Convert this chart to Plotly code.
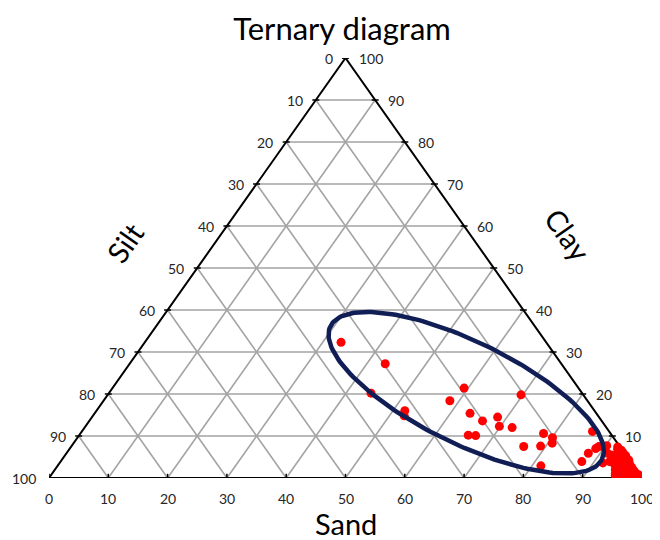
import numpy as np
import plotly.graph_objects as go

# ---------------- data (percent) ----------------
ticks = [0, 10, 20, 30, 40, 50, 60, 70, 80, 90, 100]
tick_labels = [str(t) for t in ticks]

sand = [33.1, 43.1, 44.2, 52.0, 52.5, 59.3, 58.4, 63.3, 66.3, 68.4, 69.8, 72.1, 69.7,
        65.6, 66.9, 76.3, 79.1, 78.1, 80.1, 80.7, 81.5, 86.1, 89.0, 88.7, 88.0, 87.9,
        90.2, 91.2, 91.6,
        92.5, 93.0, 93.5, 94.0, 94.5, 95.0, 95.5, 96.0, 96.5, 97.0, 97.5, 98.0, 98.5,
        99.0, 99.5, 94.0, 94.5, 95.0, 95.5, 96.0, 96.5, 97.0, 97.5, 98.0, 93.5, 95.2,
        95.0, 96.0, 97.0, 98.5, 93.0, 95.5, 96.5, 94.8, 92.0, 92.6, 93.8, 95.8, 96.8,
        97.8, 98.8, 99.2, 94.2, 96.2, 92.2, 93.2, 94.6, 95.6, 92.9]
clay = [32.3, 27.2, 20.2, 16.0, 14.8, 21.4, 18.4, 15.4, 13.6, 14.5, 12.3, 12.0, 19.8,
        10.2, 10.1, 7.5, 7.6, 10.6, 9.6, 8.3, 2.9, 11.1, 7.5, 7.0, 5.9, 3.9,
        7.7, 5.9, 3.6,
        6.8, 6.0, 5.2, 4.5, 5.0, 4.5, 4.0, 3.5, 3.0, 2.5, 2.0, 1.5, 1.0,
        0.8, 0.3, 3.0, 2.0, 1.0, 0.5, 1.5, 2.0, 1.0, 0.5, 0.8, 3.5, 0.6,
        2.8, 2.5, 1.8, 0.5, 4.5, 3.0, 0.8, 3.8, 5.5, 3.9, 6.0, 4.0, 2.6,
        1.2, 0.4, 0.5, 5.5, 0.2, 7.4, 6.6, 5.3, 4.3, 5.6]
silt = [round(100 - s - c, 1) for s, c in zip(sand, clay)]

# outline ellipse (in ternary units: centre sand/clay, semi-axes, rotation)
ell_center_sand, ell_center_clay = 60.2, 20.3
ell_a, ell_b, ell_angle_deg = 25.5, 8.6, -26.1


def to_xy(sand_v, clay_v):
    s = np.asarray(sand_v, dtype=float)
    c = np.asarray(clay_v, dtype=float)
    return s + c / 2.0, c


fig = go.Figure()

GRID = "#a3a3a3"
# grid lines
for k in ticks[1:-1]:
    # clay = k (horizontal)
    x, y = to_xy([0, 100 - k], [k, k])
    fig.add_trace(go.Scatter(x=x, y=y, mode="lines", line=dict(color=GRID, width=1.6),
                             hoverinfo="skip", showlegend=False))
    # sand = k
    x, y = to_xy([k, k], [0, 100 - k])
    fig.add_trace(go.Scatter(x=x, y=y, mode="lines", line=dict(color=GRID, width=1.6),
                             hoverinfo="skip", showlegend=False))
    # silt = k
    x, y = to_xy([100 - k, 0], [0, 100 - k])
    fig.add_trace(go.Scatter(x=x, y=y, mode="lines", line=dict(color=GRID, width=1.6),
                             hoverinfo="skip", showlegend=False))

# triangle edges
x, y = to_xy([0, 100, 0, 0], [0, 0, 100, 0])
fig.add_trace(go.Scatter(x=x, y=y, mode="lines", line=dict(color="black", width=2),
                         hoverinfo="skip", showlegend=False))

# tick marks
bx, by = to_xy(ticks, [0] * len(ticks))
fig.add_trace(go.Scatter(x=bx, y=by, mode="markers",
                         marker=dict(symbol="line-ns", size=6, line=dict(color="black", width=1.5)),
                         hoverinfo="skip", showlegend=False))
lx, ly = to_xy([0] * len(ticks), [100 - t for t in ticks])
rx, ry = to_xy([100 - t for t in ticks], ticks)
fig.add_trace(go.Scatter(x=list(lx) + list(rx), y=list(ly) + list(ry), mode="markers",
                         marker=dict(symbol="line-ew", size=5, line=dict(color="black", width=1.5)),
                         hoverinfo="skip", showlegend=False))

# data points
px, py = to_xy(sand, clay)
fig.add_trace(go.Scatter(x=px, y=py, mode="markers",
                         marker=dict(color="#ff0000", size=9),
                         customdata=np.stack([sand, silt, clay], axis=1),
                         hovertemplate="Sand %{customdata[0]}<br>Silt %{customdata[1]}<br>Clay %{customdata[2]}<extra></extra>",
                         showlegend=False))

# ellipse (drawn in screen-proportional space so it stays a true ellipse)
X_PX, Y_PX = 5.93, 4.2  # pixels per unit on the two axes
t = np.linspace(0, 2 * np.pi, 200)
cx, cy = to_xy(ell_center_sand, ell_center_clay)
th = np.deg2rad(ell_angle_deg)
u = ell_a * np.cos(t) * X_PX
v = ell_b * np.sin(t) * X_PX
ex = cx + (u * np.cos(th) - v * np.sin(th)) / X_PX
ey = cy + (u * np.sin(th) + v * np.cos(th)) / Y_PX
fig.add_trace(go.Scatter(x=ex, y=ey, mode="lines", line=dict(color="#111e56", width=4.5),
                         hoverinfo="skip", showlegend=False))

# tick labels
FONT = "Lato, 'Open Sans', sans-serif"
tf = dict(family=FONT, size=14, color="#262626")
ann = []
for k, lab in zip(ticks, tick_labels):
    x0, y0 = to_xy(k, 0)
    ann.append(dict(x=float(x0), y=float(y0), text=lab, showarrow=False, yshift=-20,
                    xanchor="center", yanchor="middle", font=tf))
    x1, y1 = to_xy(0, 100 - k)  # silt = k on left edge
    ann.append(dict(x=float(x1), y=float(y1), text=lab, showarrow=False, xshift=-11,
                    xanchor="right", yanchor="middle", font=tf))
    x2, y2 = to_xy(100 - k, k)  # clay = k on right edge
    ann.append(dict(x=float(x2), y=float(y2), text=lab, showarrow=False, xshift=11,
                    xanchor="left", yanchor="middle", font=tf))

tt = dict(family=FONT, size=29, color="black")
ann.append(dict(x=50, y=0, text="Sand", showarrow=False, yshift=-45,
                xanchor="center", yanchor="middle", font=tt))
ann.append(dict(x=12.8, y=56, text="Silt", showarrow=False, textangle=-55,
                xanchor="center", yanchor="middle", font=tt))
ann.append(dict(x=87.5, y=57.9, text="Clay", showarrow=False, textangle=55,
                xanchor="center", yanchor="middle", font=tt))
for a in ann:
    a["xref"] = "x"
    a["yref"] = "y"

# the page body has an 8px margin, so the figure is sized to fill the rest of the window
W, H = 652, 532
fig.update_layout(
    width=W, height=H,
    margin=dict(l=41, r=18, t=50, b=62),
    paper_bgcolor="white", plot_bgcolor="white",
    title=dict(text="Ternary diagram", x=334 / W, xanchor="center",
               y=1 - 21 / H, yanchor="middle", xref="container", yref="container",
               font=dict(family=FONT, size=31, color="black")),
    xaxis=dict(range=[0, 100], visible=False, fixedrange=True),
    yaxis=dict(range=[0, 100], visible=False, fixedrange=True),
    annotations=ann,
    showlegend=False,
)

fig.write_html("out.html")
